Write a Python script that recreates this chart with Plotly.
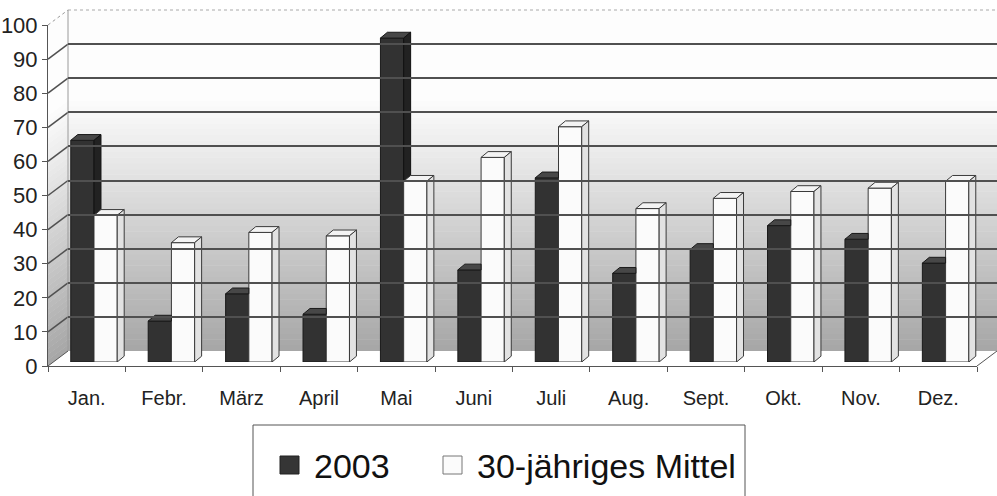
import plotly.graph_objects as go

months = ["Jan.", "Febr.", "März", "April", "Mai", "Juni", "Juli", "Aug.", "Sept.", "Okt.", "Nov.", "Dez."]
rain_2003 = [65, 12, 20, 14, 95, 27, 54, 26, 33, 40, 36, 29]
rain_mean = [43, 35, 38, 37, 53, 60, 69, 45, 48, 50, 51, 53]

W, H = 997, 496


def px(x):
    return x / W


def py(y):
    return 1 - y / H


# geometry of the fake 3d box (pixels)
FX0, FX1, FY0 = 48, 977, 366      # front edge of floor
BX0, BX1, BY0 = 68, 997, 351      # back wall
SC = 3.41                         # px per unit
BAR_Y0 = 362
BAR_XC0 = 94                      # centre of first bar group
CAT = (FX1 - FX0) / 12

bw = 0.3      # bar width in category units
dx = 0.09     # depth offset (x, category units)
dy = 1.7      # depth offset (y, value units)

fig = go.Figure()

fig.add_trace(go.Bar(x=list(range(12)), y=rain_2003, width=bw, offset=-bw, name="2003",
                     marker=dict(color="#323232", line=dict(color="#1a1a1a", width=1)),
                     xaxis="x2", yaxis="y2", showlegend=False))
fig.add_trace(go.Bar(x=list(range(12)), y=rain_mean, width=bw, offset=0, name="30-jähriges Mittel",
                     marker=dict(color="#fbfbfb", line=dict(color="#3a3a3a", width=1)),
                     xaxis="x2", yaxis="y2", showlegend=False))

# 3d faces of the bars, built from the values
dtop_x, dtop_y, dside_x, dside_y = [], [], [], []
wtop_x, wtop_y, wside_x, wside_y = [], [], [], []
for i, (d, m) in enumerate(zip(rain_2003, rain_mean)):
    if d > m:
        dtop_x += [i - bw, i - bw + dx, i + dx, i, i - bw, None]
        dtop_y += [d, d + dy, d + dy, d, d, None]
        dside_x += [i, i, i + dx, i + dx, i, None]
        dside_y += [m, d, d + dy, m + dy, m, None]
    else:
        dtop_x += [i - bw, i - bw + dx, i, i, i - bw, None]
        dtop_y += [d, d + dy, d + dy, d, d, None]
    wtop_x += [i, i + dx, i + bw + dx, i + bw, i, None]
    wtop_y += [m, m + dy, m + dy, m, m, None]
    wside_x += [i + bw, i + bw + dx, i + bw + dx, i + bw, i + bw, None]
    wside_y += [0, dy, m + dy, m, 0, None]

for xs, ys, fc, lc in [(dtop_x, dtop_y, "#474747", "#1a1a1a"),
                       (dside_x, dside_y, "#222222", "#111111"),
                       (wtop_x, wtop_y, "#f3f3f3", "#3a3a3a"),
                       (wside_x, wside_y, "#e2e2e2", "#3a3a3a")]:
    fig.add_trace(go.Scatter(x=xs, y=ys, fill="toself", fillcolor=fc, mode="lines",
                             line=dict(color=lc, width=1), xaxis="x2", yaxis="y2",
                             showlegend=False, hoverinfo="skip"))

# empty traces so the front axes and the back wall exist
fig.add_trace(go.Scatter(x=[0], y=[0], mode="markers", marker=dict(opacity=0), showlegend=False, hoverinfo="skip"))
fig.add_trace(go.Scatter(x=[0], y=[0], mode="markers", marker=dict(opacity=0), xaxis="x3", yaxis="y3",
                         showlegend=False, hoverinfo="skip"))

shapes = []


def grey(v):
    if v >= 74:
        g = 253
    else:
        g = 253 - (74 - v) / 74 * (253 - 166)
    g = int(round(g))
    return f"rgb({g},{g},{g})"


# gradient on back wall and left side wall
n = 60
for k in range(n):
    v0 = 100 * k / n
    v1 = 100 * (k + 1) / n
    c = grey((v0 + v1) / 2)
    shapes.append(dict(type="rect", xref="paper", yref="paper", layer="below",
                       x0=px(BX0), x1=px(BX1), y0=py(BY0 - SC * v0), y1=py(BY0 - SC * v1) + 0.001,
                       fillcolor=c, line=dict(width=0)))
    path = (f"M {px(FX0)},{py(FY0 - SC * v0)} L {px(BX0)},{py(BY0 - SC * v0)} "
            f"L {px(BX0)},{py(BY0 - SC * v1) + 0.001} L {px(FX0)},{py(FY0 - SC * v1) + 0.001} Z")
    shapes.append(dict(type="path", xref="paper", yref="paper", layer="below", path=path,
                       fillcolor=c, line=dict(width=0)))

# diagonal grid lines on the side wall
for v in range(10, 100, 10):
    shapes.append(dict(type="line", xref="paper", yref="paper", layer="below",
                       x0=px(FX0), y0=py(FY0 - SC * v), x1=px(BX0), y1=py(BY0 - SC * v),
                       line=dict(color="#505050", width=1.5)))
shapes.append(dict(type="line", xref="paper", yref="paper", layer="below",
                   x0=px(FX0), y0=py(FY0 - SC * 100), x1=px(BX0), y1=py(BY0 - SC * 100),
                   line=dict(color="#9a9a9a", width=1, dash="dot")))
shapes.append(dict(type="line", xref="paper", yref="paper", layer="below",
                   x0=px(BX0), y0=py(BY0 - SC * 100), x1=px(BX1), y1=py(BY0 - SC * 100),
                   line=dict(color="#aaaaaa", width=1, dash="dot")))
shapes.append(dict(type="line", xref="paper", yref="paper", layer="below",
                   x0=px(BX0), y0=py(BY0), x1=px(BX0), y1=py(BY0 - SC * 100),
                   line=dict(color="#9a9a9a", width=1)))
# floor edges
shapes.append(dict(type="line", xref="paper", yref="paper", layer="below",
                   x0=px(FX0), y0=py(FY0), x1=px(BX0), y1=py(BY0), line=dict(color="#555", width=1)))
shapes.append(dict(type="line", xref="paper", yref="paper", layer="below",
                   x0=px(FX1), y0=py(FY0), x1=px(BX1), y1=py(BY0), line=dict(color="#555", width=1)))

# legend box and keys
shapes.append(dict(type="rect", xref="paper", yref="paper", x0=px(253), x1=px(745), y0=py(425), y1=py(520),
                   line=dict(color="#555", width=1), fillcolor="rgba(0,0,0,0)"))
shapes.append(dict(type="rect", xref="paper", yref="paper", x0=px(280), x1=px(299), y0=py(456), y1=py(474),
                   line=dict(color="#222", width=1), fillcolor="#353535"))
shapes.append(dict(type="rect", xref="paper", yref="paper", x0=px(443), x1=px(462), y0=py(456), y1=py(474),
                   line=dict(color="#777", width=1), fillcolor="#fbfbfb"))

annotations = [
    dict(text="2003", x=px(312), y=py(466), xref="paper", yref="paper", xanchor="left", yanchor="middle",
         showarrow=False, font=dict(size=34, color="#111")),
    dict(text="30-jähriges Mittel", x=px(475), y=py(466), xref="paper", yref="paper", xanchor="left",
         yanchor="middle", showarrow=False, font=dict(size=34, color="#111")),
]

fig.update_layout(
    width=W, height=H,
    margin=dict(l=0, r=0, t=0, b=0, autoexpand=False),
    paper_bgcolor="white", plot_bgcolor="rgba(0,0,0,0)",
    font=dict(family="Liberation Sans, Arial, sans-serif", color="#222"),
    shapes=shapes, annotations=annotations,
    barmode="overlay",
    xaxis=dict(domain=[px(FX0), px(FX1)], range=[-0.5, 11.5], tickmode="array",
               tickvals=list(range(12)), ticktext=months, ticks="", ticklabelstandoff=14,
               showline=True, linecolor="#555", linewidth=1, showgrid=False, zeroline=False,
               tickfont=dict(size=20), automargin=False,
               minor=dict(tickmode="array", tickvals=[k - 0.5 for k in range(13)], ticks="outside",
                          ticklen=5, tickcolor="#555", showgrid=False),
               anchor="y"),
    yaxis=dict(domain=[py(FY0), py(FY0 - SC * 100)], range=[0, 100], dtick=10, ticks="outside",
               ticklen=5, tickcolor="#555", showline=True, linecolor="#555", showgrid=False,
               zeroline=False, tickfont=dict(size=22), anchor="x", automargin=False),
    xaxis2=dict(domain=[px(BAR_XC0 - CAT / 2), px(BAR_XC0 - CAT / 2 + 12 * CAT)], range=[-0.5, 11.5],
                visible=False, anchor="y2", automargin=False),
    yaxis2=dict(domain=[py(BAR_Y0), py(BAR_Y0 - SC * 100)], range=[0, 100], visible=False, anchor="x2",
                automargin=False),
    xaxis3=dict(domain=[px(BX0), px(BX1)], range=[0, 1], showticklabels=False, showgrid=False,
                zeroline=False, anchor="y3", automargin=False),
    yaxis3=dict(domain=[py(BY0), py(BY0 - SC * 100)], range=[0, 100], tickmode="array",
                tickvals=list(range(10, 100, 10)), showticklabels=False, showgrid=True,
                gridcolor="#505050", gridwidth=1.5, zeroline=False, anchor="x3", automargin=False),
)

# drop the browser's default body margin so the figure sits at the page corner
fig.write_html("out.html", config={"displayModeBar": False},
               post_script="document.body.style.margin='0';")
